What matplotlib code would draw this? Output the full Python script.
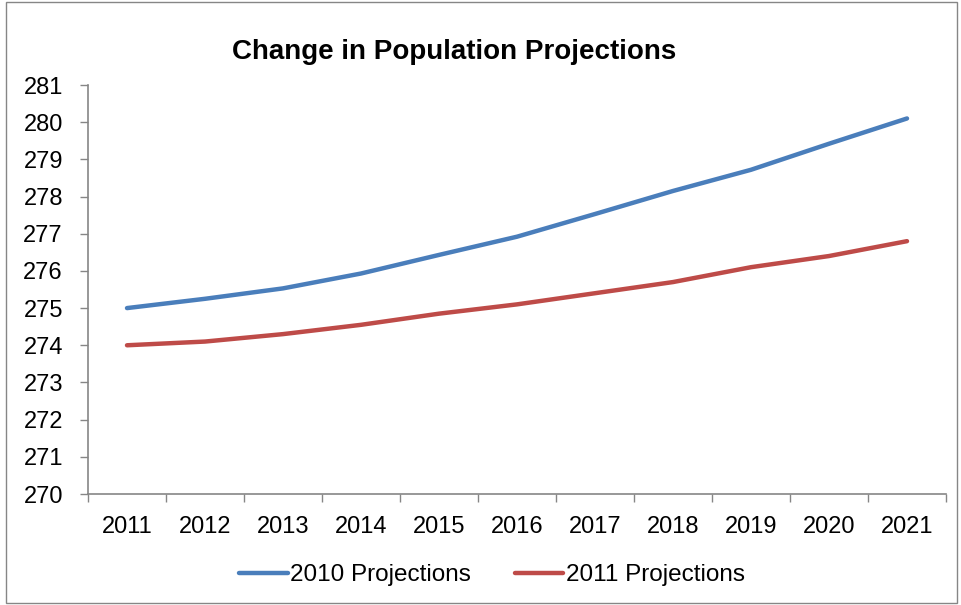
import matplotlib
matplotlib.use("Agg")
import matplotlib.pyplot as plt
from matplotlib.patches import Rectangle

# data
years = ["2011", "2012", "2013", "2014", "2015", "2016", "2017", "2018", "2019", "2020", "2021"]
proj_2010 = [275.0, 275.25, 275.53, 275.93, 276.43, 276.92, 277.53, 278.15, 278.72, 279.42, 280.1]
proj_2011 = [274.0, 274.1, 274.3, 274.55, 274.85, 275.1, 275.4, 275.7, 276.1, 276.4, 276.8]

plt.rcParams['font.family'] = ['Liberation Sans', 'DejaVu Sans']

fig = plt.figure(figsize=(9.61, 6.05), dpi=100)
ax = fig.add_axes([88/961, 1 - 494/605, (946 - 88)/961, (494 - 85)/605])

x = list(range(len(years)))
ax.plot(x, proj_2010, color="#4A7EBB", linewidth=3.2, solid_capstyle="round", label="2010 Projections")
ax.plot(x, proj_2011, color="#BE4B48", linewidth=3.2, solid_capstyle="round", label="2011 Projections")

ax.set_xlim(-0.5, len(years) - 0.5)
ax.set_ylim(270, 281)
ax.set_yticks(range(270, 282))

# category ticks between labels
ax.set_xticks([i - 0.5 for i in range(len(years) + 1)])
ax.set_xticklabels([])
ax.set_xticks(x, minor=True)
ax.set_xticklabels(years, minor=True)
ax.tick_params(axis="x", which="major", length=6, width=1, color="#868686", direction="out")
ax.tick_params(axis="x", which="minor", length=0, pad=16, labelsize=17)
ax.tick_params(axis="y", length=6, width=1, color="#868686", direction="out", pad=12, labelsize=17)

for s in ["top", "right"]:
    ax.spines[s].set_visible(False)
for s in ["left", "bottom"]:
    ax.spines[s].set_color("#868686")
    ax.spines[s].set_linewidth(1.2)

fig.text(454/961, 1 - 52/605, "Change in Population Projections", ha="center", va="center",
         fontsize=20, fontweight="bold")

fig.legend(loc="center", bbox_to_anchor=(492/961, 1 - 575/605), ncol=2, frameon=False,
           fontsize=17.5, handlelength=2.0, handletextpad=0.1, columnspacing=1.8)

# outer chart border
fig.patches.append(Rectangle((0.006, 0.004), 0.99, 0.992, transform=fig.transFigure,
                             fill=False, edgecolor="#868686", linewidth=1))

fig.savefig("out.png", dpi=100)
